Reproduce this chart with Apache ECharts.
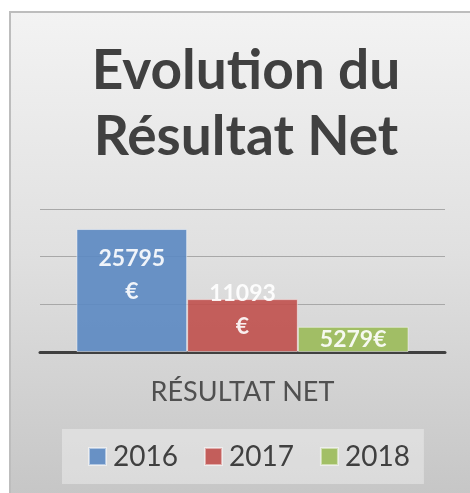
<!DOCTYPE html>
<html>
<head>
<meta charset="utf-8">
<script src="https://cdn.jsdelivr.net/npm/echarts@6/dist/echarts.min.js"></script>
<style>
  html, body { margin: 0; padding: 0; background: #fff; }
  #chart { width: 470px; height: 493px; }
</style>
</head>
<body>
<div id="chart"></div>
<script>
// data
const categories = ['RÉSULTAT NET']
const years = ['2016', '2017', '2018']
const values = [25795, 11093, 5279]
const colors = ['#5b88c2', '#c0504d', '#9bbb59']
// label text wraps in the original for the two wide bars
const wrapLabel = [true, true, false]

const myChart = echarts.init(document.getElementById('chart'))

const seriesData = years.map((year, i) => {
  return {
    name: year,
    type: 'bar',
    barGap: 0,
    barCategoryGap: '18%',
    data: [values[i]],
    itemStyle: {
      color: colors[i],
      opacity: 0.9,
      borderColor: 'rgba(255,255,255,0.55)',
      borderWidth: 1,
    },
    label: {
      show: true,
      position: 'inside',
      offset: wrapLabel[i] ? [0, -15] : [0, 0],
      color: '#fff',
      fontFamily: 'Lato',
      fontWeight: 'bold',
      fontSize: 23,
      lineHeight: 33,
      formatter: (p) => (wrapLabel[i] ? p.value + '\n€' : p.value + '€'),
    },
  }
})

const option = {
  backgroundColor: '#fff',
  graphic: [
    {
      type: 'rect',
      z: -10,
      silent: true,
      shape: { x: 10, y: 12, width: 462, height: 483 },
      style: {
        fill: new echarts.graphic.LinearGradient(0, 0, 0, 1, [
          { offset: 0, color: '#f3f3f3' },
          { offset: 0.5, color: '#e0e0e0' },
          { offset: 1, color: '#c6c6c6' },
        ]),
        stroke: '#bdbdbd',
        lineWidth: 2,
      },
    },
  ],
  title: {
    text: 'Evolution du\nRésultat Net',
    left: 241,
    textAlign: 'center',
    top: 33,
    textStyle: {
      fontFamily: 'Lato',
      fontWeight: 'bold',
      fontSize: 55,
      lineHeight: 66,
      color: '#404040',
    },
  },
  legend: {
    data: years,
    left: 62,
    top: 429,
    width: 360,
    padding: [13, 14, 13, 26],
    itemWidth: 17,
    itemHeight: 17,
    itemGap: 26,
    icon: 'rect',
    backgroundColor: 'rgba(255,255,255,0.35)',
    textStyle: {
      fontFamily: 'Lato',
      fontSize: 28,
      lineHeight: 29,
      color: '#404040',
      padding: [0, 0, 0, 2],
    },
  },
  grid: {
    left: 40,
    right: 25,
    top: 209,
    bottom: 141,
  },
  xAxis: {
    type: 'category',
    data: categories,
    axisTick: { show: false },
    axisLine: { lineStyle: { color: '#404040', width: 3 } },
    axisLabel: {
      margin: 27,
      fontFamily: 'Lato',
      fontSize: 27,
      color: '#505050',
    },
  },
  yAxis: {
    type: 'value',
    min: 0,
    max: 30000,
    interval: 10000,
    axisLabel: { show: false },
    axisLine: { show: false },
    axisTick: { show: false },
    splitLine: { lineStyle: { color: '#a8a8a8', width: 1 } },
  },
  series: seriesData,
}

myChart.setOption(option)
</script>
</body>
</html>
